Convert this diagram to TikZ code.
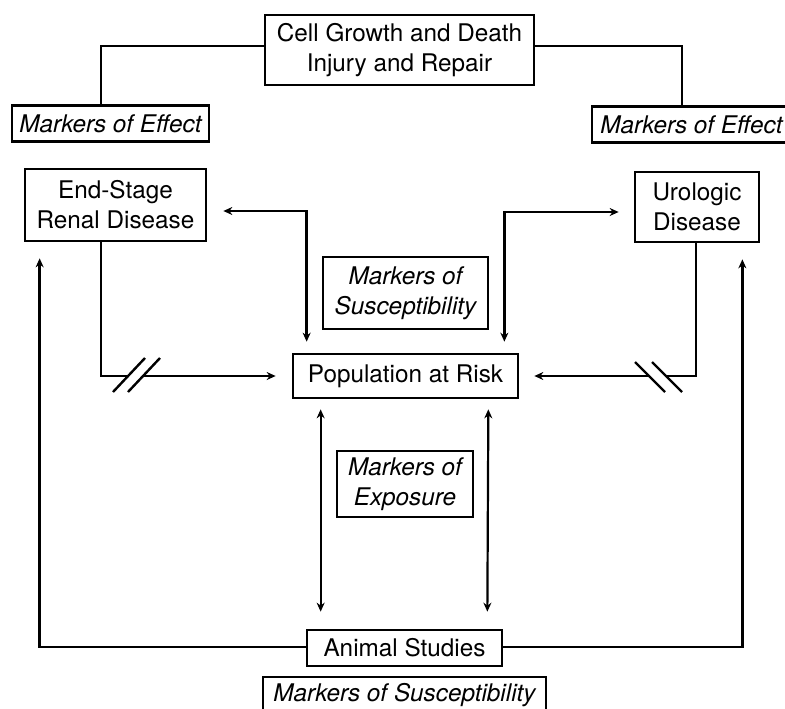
\documentclass[tikz,border=0pt]{standalone}
\usepackage{fontspec}
\setmainfont{TeX Gyre Heros}
\usepackage{tikz}
\usetikzlibrary{arrows.meta,calc}
\tikzset{
  box/.style={draw,line width=2.7pt,inner sep=0pt,align=center,font=\fontsize{24.3}{30}\selectfont},
  markbox/.style={box,font=\fontsize{24.3}{30}\selectfont\itshape},
  link/.style={line width=2.7pt},
  oneway/.style={link,-{Stealth[length=9pt,width=8pt]}},
  twoway/.style={link,{Stealth[length=9pt,width=8pt]}-{Stealth[length=9pt,width=8pt]}},
  thinway/.style={line width=2.2pt,{Stealth[length=9pt,width=8pt]}-{Stealth[length=9pt,width=8pt]}},
  cut/.style={line width=2.4pt},
  gap/.style={fill=white,draw=none}
}
\begin{document}
\begin{tikzpicture}[x=1pt,y=-1pt]
  \useasboundingbox (0,0) rectangle (785,709);
  \node[box,minimum width=269pt,minimum height=70pt] (cell) at (399.5,50) {Cell Growth and Death\\Injury and Repair};
  \node[markbox,minimum width=197pt,minimum height=36pt] (effL) at (110.5,123.5) {Markers of Effect};
  \node[markbox,minimum width=199pt,minimum height=36pt] (effR) at (691.5,124.5) {Markers of Effect};
  \node[box,minimum width=181pt,minimum height=72pt] (esrd) at (115.5,205) {End-Stage\\Renal Disease};
  \node[box,minimum width=124pt,minimum height=70pt] (uro) at (697,207) {Urologic\\Disease};
  \node[markbox,minimum width=165pt,minimum height=72pt] (suscM) at (405.5,293) {Markers of\\Susceptibility};
  \node[box,minimum width=225pt,minimum height=44pt] (pop) at (405.5,376) {Population at Risk};
  \node[markbox,minimum width=136pt,minimum height=66pt] (expo) at (405,484) {Markers of\\Exposure};
  \node[box,minimum width=195pt,minimum height=36pt] (animal) at (404.5,648) {Animal Studies};
  \node[markbox,minimum width=283pt,minimum height=36pt] (suscB) at (404.5,695) {Markers of Susceptibility};

  % effect markers
  \draw[link] ([yshift=4pt]cell.west) -| ([xshift=-9.5pt]effL.north);
  \draw[link] ([yshift=4pt]cell.east) -| ([xshift=-9.5pt]effR.north);

  % feedback to disease
  \draw[twoway] ([xshift=16pt,yshift=-6pt]esrd.east) -| ([xshift=15pt,yshift=11pt]pop.north west);
  \draw[twoway] ([xshift=-15pt,yshift=11pt]pop.north east) |- ([xshift=-15pt,yshift=-5pt]uro.west);

  % disease to population
  \draw[oneway] ([xshift=-14.5pt]esrd.south) |- ([xshift=-16pt]pop.west);
  \draw[oneway] ([xshift=-1pt]uro.south) |- ([xshift=15pt]pop.east);
  \fill[gap] (114,392) -- (146,358) -- (159,358) -- (127,392) -- cycle;
  \draw[cut] (113,392) -- (145,358) (128,392) -- (160,358);
  \fill[gap] (636,362) -- (666,392) -- (681,392) -- (651,362) -- cycle;
  \draw[cut] (635,362) -- (665,392) (652,362) -- (682,392);

  % population and animal studies
  \draw[thinway] ([xshift=29pt,yshift=-10pt]pop.south west) -- ([xshift=15pt,yshift=17pt]animal.north west);
  \draw[thinway] ([xshift=-31pt,yshift=-10pt]pop.south east) -- ([xshift=-16pt,yshift=17pt]animal.north east);
  \draw[oneway] ([yshift=1pt]animal.west) -| ([xshift=16pt,yshift=-16pt]esrd.south west);
  \draw[oneway] ([yshift=1pt]animal.east) -| ([xshift=-18pt,yshift=-16pt]uro.south east);
\end{tikzpicture}
\end{document}
